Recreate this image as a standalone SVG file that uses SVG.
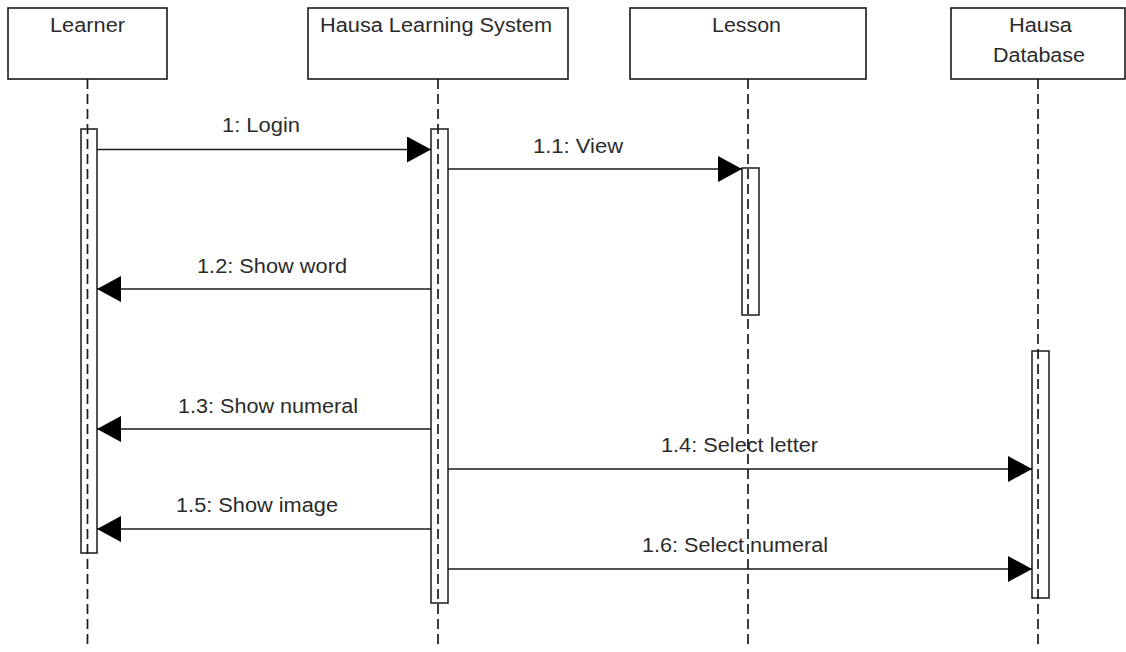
<svg xmlns="http://www.w3.org/2000/svg" width="1126" height="652" viewBox="0 0 1126 652">
  <style>
    .head { fill: #ffffff; stroke: #1a1a1a; stroke-width: 1.6; }
    .life { stroke: #1a1a1a; stroke-width: 1.7; stroke-dasharray: 10 5; fill: none; }
    .act { fill: #ffffff; stroke: #1a1a1a; stroke-width: 1.5; }
    .msg { stroke: #1a1a1a; stroke-width: 1.6; fill: none; marker-end: url(#arrow); }
    text { font-family: "Liberation Sans", Arial, sans-serif; font-size: 19.5px; fill: #2b2b2b; }
    .c { text-anchor: middle; }
  </style>
  <defs>
    <marker id="arrow" viewBox="0 0 24 26" refX="24" refY="13" markerWidth="24" markerHeight="26" markerUnits="userSpaceOnUse" orient="auto">
      <path d="M0,0 L24,13 L0,26 Z" fill="#000000"/>
    </marker>
  </defs>
  <rect width="1126" height="652" fill="#ffffff"/>

  <!-- Learner -->
  <g id="learner">
    <rect class="head" x="8" y="8" width="159" height="71"/>
    <text class="c" x="87.5" y="32" textLength="75" lengthAdjust="spacingAndGlyphs">Learner</text>
    <rect class="act" x="81" y="129" width="16" height="424"/>
    <line class="life" x1="87.5" y1="79" x2="87.5" y2="647"/>
  </g>

  <!-- Hausa Learning System -->
  <g id="system">
    <rect class="head" x="308" y="8" width="260" height="71"/>
    <text class="c" x="436" y="32" textLength="232" lengthAdjust="spacingAndGlyphs">Hausa Learning System</text>
    <rect class="act" x="431" y="129" width="17" height="474"/>
    <line class="life" x1="438" y1="79" x2="438" y2="647"/>
  </g>

  <!-- Hausa Database -->
  <g id="database">
    <rect class="head" x="951" y="8" width="174" height="71"/>
    <text class="c" x="1040.5" y="32" textLength="63" lengthAdjust="spacingAndGlyphs">Hausa</text>
    <text class="c" x="1039" y="62" textLength="92" lengthAdjust="spacingAndGlyphs">Database</text>
    <rect class="act" x="1032" y="351" width="17" height="247"/>
    <line class="life" x1="1038" y1="79" x2="1038" y2="647"/>
  </g>

  <!-- Messages -->
  <g id="connectors">
    <line class="msg" x1="97" y1="149.5" x2="431" y2="149.5"/>
    <text x="222" y="132" textLength="78" lengthAdjust="spacingAndGlyphs">1: Login</text>

    <line class="msg" x1="448" y1="169" x2="742" y2="169"/>
    <text x="533" y="153" textLength="90" lengthAdjust="spacingAndGlyphs">1.1: View</text>

    <line class="msg" x1="431" y1="289" x2="97" y2="289"/>
    <text x="197" y="273" textLength="150" lengthAdjust="spacingAndGlyphs">1.2: Show word</text>

    <line class="msg" x1="431" y1="429" x2="97" y2="429"/>
    <text x="178" y="413" textLength="180" lengthAdjust="spacingAndGlyphs">1.3: Show numeral</text>

    <line class="msg" x1="448" y1="469" x2="1032" y2="469"/>
    <text x="661" y="452" textLength="157" lengthAdjust="spacingAndGlyphs">1.4: Select letter</text>

    <line class="msg" x1="431" y1="529" x2="97" y2="529"/>
    <text x="176" y="512" textLength="162" lengthAdjust="spacingAndGlyphs">1.5: Show image</text>

    <line class="msg" x1="448" y1="569" x2="1032" y2="569"/>
    <text x="642" y="552" textLength="186" lengthAdjust="spacingAndGlyphs">1.6: Select numeral</text>
  </g>

  <!-- Lesson: drawn last so its lifeline runs over the message labels it crosses -->
  <g id="lesson">
    <rect class="head" x="630" y="8" width="236" height="71"/>
    <text class="c" x="746.5" y="32" textLength="69" lengthAdjust="spacingAndGlyphs">Lesson</text>
    <rect class="act" x="742" y="168" width="17" height="147"/>
    <line class="life" x1="748" y1="79" x2="748" y2="647"/>
  </g>
</svg>
